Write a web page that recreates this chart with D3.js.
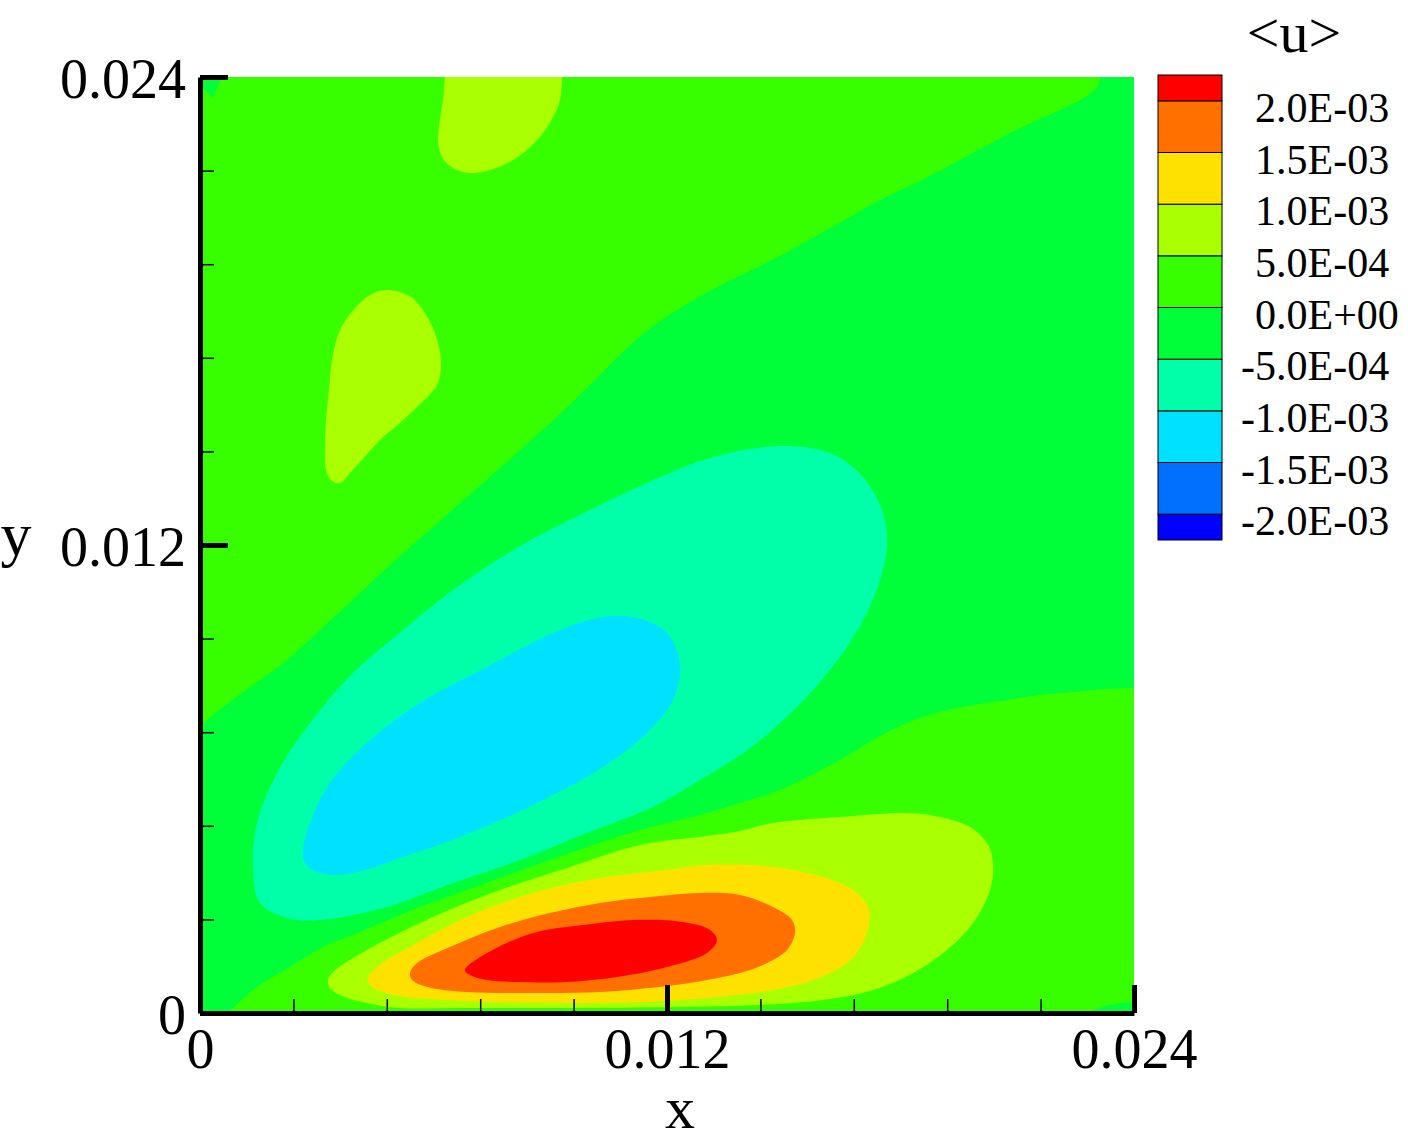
<!DOCTYPE html>
<html><head><meta charset="utf-8">
<script src="https://cdn.jsdelivr.net/npm/d3@7"></script>
<style>
body{margin:0;background:#fff}
svg{display:block}
text{font-family:"Liberation Serif","Times New Roman",serif;fill:#000}
</style>
</head><body>
<svg id="chart" width="1408" height="1142"></svg>
<script>
// ================= DATA =================
const contourLevels = [-0.002, -0.0015, -0.001, -0.0005, 0, 0.0005, 0.001, 0.0015, 0.002];
const levelLabels = ["-2.0E-03","-1.5E-03","-1.0E-03","-5.0E-04","0.0E+00","5.0E-04","1.0E-03","1.5E-03","2.0E-03"];
const xMajorTicks = [0, 0.012, 0.024];
const xMajorLabels = ["0", "0.012", "0.024"];
const yMajorTicks = [0, 0.012, 0.024];
const yMajorLabels = ["0", "0.012", "0.024"];
const minorTicks = [0.0024, 0.0048, 0.0072, 0.0096, 0.0144, 0.0168, 0.0192, 0.0216];
const legendTitle = "<u>";
const xTitle = "x", yTitle = "y";

// contour lines [x, y] (data units)
// u = 0, upper line (top edge -> left edge)
const zeroUpper = [[0.023126,0.024],[0.023049,0.023744],[0.022741,0.023487],[0.022253,0.023231],[0.021636,0.022949],[0.020865,0.02259],[0.020094,0.022179],[0.018552,0.021359],[0.017473,0.020846],[0.01624,0.020154],[0.014698,0.019308],[0.013285,0.018615],[0.011743,0.017692],[0.010870,0.016950],[0.010150,0.016230],[0.009276,0.015385],[0.007734,0.014],[0.006193,0.012641],[0.005139,0.011718],[0.004188,0.010846],[0.003084,0.009821],[0.002236,0.009051],[0.001465,0.008487],[0.000591,0.007846],[0,0.007359]];
// u = 0, lower line (bottom edge -> right edge)
const zeroLower = [[0.000719,0],[0.000848,0.000128],[0.001465,0.000667],[0.002313,0.001179],[0.003161,0.001692],[0.003931,0.002],[0.005139,0.002513],[0.006424,0.003],[0.007709,0.003462],[0.009508,0.004103],[0.011307,0.004692],[0.012848,0.005077],[0.013876,0.005385],[0.014904,0.005718],[0.016445,0.006487],[0.017293,0.007],[0.018167,0.007436],[0.019015,0.007718],[0.019863,0.007897],[0.020737,0.008026],[0.021585,0.008154],[0.022433,0.008231],[0.023306,0.008308],[0.024,0.008333]];
// u = -5E-4
const negHalf = [[0.014904,0.014538],[0.016189,0.014359],[0.017036,0.013744],[0.01755,0.012821],[0.017653,0.011949],[0.017473,0.011103],[0.017139,0.010256],[0.016625,0.009385],[0.015752,0.008282],[0.014904,0.007436],[0.014004,0.006692],[0.012848,0.005974],[0.011641,0.005282],[0.009944,0.004615],[0.008223,0.003923],[0.006501,0.003333],[0.004805,0.002718],[0.003084,0.002385],[0.002236,0.002436],[0.001542,0.002821],[0.001362,0.003744],[0.001465,0.004872],[0.001979,0.006154],[0.002827,0.007436],[0.003931,0.008718],[0.005216,0.009821],[0.006501,0.010846],[0.008223,0.011974],[0.009764,0.012769],[0.011486,0.01359],[0.013182,0.014256]];
// u = -1E-3
const negOne = [[0.010356,0.010154],[0.011229,0.010128],[0.012,0.009744],[0.012334,0.008872],[0.012154,0.008026],[0.011486,0.007179],[0.010356,0.006308],[0.00866,0.005385],[0.006938,0.004615],[0.005216,0.004],[0.003931,0.00359],[0.003084,0.00359],[0.002698,0.003846],[0.002647,0.004179],[0.002827,0.004872],[0.00334,0.005897],[0.004368,0.007],[0.005653,0.007949],[0.007375,0.008872],[0.009071,0.009744]];
// u = 5E-4 (wall lobe)
const posHalf = [[0.011307,0.004308],[0.013028,0.004538],[0.013876,0.004667],[0.014724,0.004872],[0.016445,0.005026],[0.018167,0.005128],[0.019015,0.005026],[0.019786,0.004769],[0.020223,0.004359],[0.020377,0.003846],[0.0203,0.003154],[0.019863,0.002308],[0.019195,0.001615],[0.018321,0.001026],[0.017293,0.00059],[0.016009,0.000333],[0.014313,0.000205],[0.012154,0.000154],[0.00943,0.000128],[0.006861,0.000128],[0.005139,0.000128],[0.004291,0.000256],[0.003598,0.000462],[0.00334,0.000641],[0.003289,0.000846],[0.003418,0.001051],[0.004291,0.001615],[0.005987,0.002462],[0.007709,0.003154],[0.00943,0.003718]];
// u = 1E-3
const posOne = [[0.004317,0.000897],[0.004548,0.001179],[0.005396,0.001692],[0.006861,0.002462],[0.008557,0.003077],[0.010278,0.003462],[0.012,0.003667],[0.013028,0.003795],[0.014724,0.003744],[0.016009,0.003487],[0.01678,0.003154],[0.017165,0.002718],[0.017191,0.002308],[0.017036,0.001795],[0.016625,0.001282],[0.015752,0.000846],[0.014724,0.00059],[0.013028,0.000385],[0.011307,0.000282],[0.00943,0.000256],[0.006861,0.000308],[0.005139,0.000436],[0.004625,0.000564],[0.004368,0.000718]];
// u = 1.5E-3
const posOneHalf = [[0.005396,0.001026],[0.005576,0.001282],[0.006424,0.001692],[0.007709,0.002205],[0.008994,0.002564],[0.010278,0.002821],[0.011563,0.002974],[0.012848,0.003077],[0.013876,0.003026],[0.014724,0.002718],[0.015212,0.002385],[0.015289,0.002051],[0.015084,0.001615],[0.01457,0.001282],[0.013876,0.001026],[0.013028,0.000846],[0.012,0.000692],[0.010278,0.000538],[0.008557,0.000513],[0.006861,0.000538],[0.005833,0.000667],[0.005448,0.000846]];
// u = 2E-3
const posTwo = [[0.006809,0.001103],[0.007375,0.001538],[0.008557,0.002051],[0.009842,0.002256],[0.011126,0.002385],[0.012411,0.002333],[0.013105,0.002128],[0.013285,0.001872],[0.013028,0.001538],[0.012,0.001179],[0.010715,0.000923],[0.00943,0.000795],[0.008146,0.000795],[0.007375,0.000846],[0.006938,0.000974]];
// u = 5E-4, blob touching the top edge
const topBlob = [[0.006296,0.024],[0.006244,0.02341],[0.006167,0.022897],[0.006116,0.022385],[0.006218,0.021949],[0.006501,0.021667],[0.006938,0.021538],[0.007452,0.021615],[0.008043,0.021872],[0.00848,0.022205],[0.008814,0.022564],[0.009071,0.022974],[0.009251,0.02341],[0.009302,0.024]];
// u = 5E-4, middle-left blob
const midBlob = [[0.004779,0.018538],[0.005422,0.018359],[0.005884,0.017769],[0.006116,0.017179],[0.006193,0.016615],[0.00609,0.016103],[0.005576,0.015538],[0.005139,0.015128],[0.004625,0.014692],[0.004163,0.014179],[0.003854,0.013846],[0.003598,0.01359],[0.003366,0.013667],[0.003238,0.013923],[0.003212,0.014513],[0.003238,0.015205],[0.003315,0.015974],[0.003392,0.016744],[0.003598,0.017513],[0.004009,0.018103],[0.004368,0.01841]];
// small negative patches in corners (u = 0)
const cornerTopLeft = [[0,0.024],[0.000565,0.024],[0.000334,0.023462],[0.000077,0.023718]];
const cornerBottomRight = [[0.022741,0],[0.023255,0.00018],[0.02364,0.000256],[0.024,0.000282],[0.024,0]];

// ================= STYLE / LAYOUT =================
const bandColors = ["#0000ff","#0070ff","#00e1ff","#00ffa8","#00ff38","#38ff00","#aaff00","#ffe100","#ff7000","#ff0000"];
const color = d3.scaleThreshold().domain(contourLevels).range(bandColors);
const plot = {left:200, right:1134, top:77, bottom:1013};
const svg = d3.select("#chart");
const x = d3.scaleLinear().domain([0, 0.024]).range([plot.left, plot.right]);
const y = d3.scaleLinear().domain([0, 0.024]).range([plot.bottom, plot.top]);

svg.append("defs").append("clipPath").attr("id","clip")
  .append("rect").attr("x",plot.left).attr("y",plot.top)
  .attr("width",plot.right-plot.left).attr("height",plot.bottom-plot.top);

const g = svg.append("g").attr("clip-path","url(#clip)");
const openLine = d3.line().x(d=>x(d[0])).y(d=>y(d[1])).curve(d3.curveCatmullRom.alpha(0.5));
const closedLine = d3.line().x(d=>x(d[0])).y(d=>y(d[1])).curve(d3.curveCatmullRomClosed.alpha(0.5));
const polyLine = d3.line().x(d=>x(d[0])).y(d=>y(d[1]));

// base band 0 .. 5E-4
g.append("rect").attr("x",plot.left).attr("y",plot.top)
  .attr("width",plot.right-plot.left).attr("height",plot.bottom-plot.top)
  .attr("fill",color(0.00025));

// band -5E-4 .. 0 : between the two zero lines
const bandPath = openLine(zeroUpper)
  + "L" + x(0) + "," + y(0)
  + openLine(zeroLower).replace(/^M/,"L")
  + "L" + x(0.024) + "," + y(0.024) + "Z";
g.append("path").attr("d", bandPath).attr("fill", color(-0.00025));
g.append("path").attr("d", polyLine(cornerTopLeft)+"Z").attr("fill", color(-0.00025));
g.append("path").attr("d", polyLine(cornerBottomRight)+"Z").attr("fill", color(-0.00025));

const closedRegions = [
  {pts: negHalf, v: -0.00075},
  {pts: negOne, v: -0.00125},
  {pts: posHalf, v: 0.00075},
  {pts: posOne, v: 0.00125},
  {pts: posOneHalf, v: 0.00175},
  {pts: posTwo, v: 0.00225},
  {pts: midBlob, v: 0.00075}
];
g.selectAll("path.region").data(closedRegions).enter().append("path")
  .attr("class","region")
  .attr("d", d => closedLine(d.pts))
  .attr("fill", d => color(d.v));
g.append("path").attr("d", openLine(topBlob)+"Z").attr("fill", color(0.00075));

// ================= AXES =================
const fs = 56;
// minor ticks
svg.append("g").attr("transform",`translate(0,${plot.bottom})`)
  .call(d3.axisBottom(x).tickValues(minorTicks).tickSizeInner(-14).tickSizeOuter(0).tickFormat(""))
  .call(a=>{a.select(".domain").remove(); a.selectAll(".tick line").attr("stroke","#000").attr("stroke-width",1.5);});
svg.append("g").attr("transform",`translate(${plot.left},0)`)
  .call(d3.axisLeft(y).tickValues(minorTicks).tickSizeInner(-14).tickSizeOuter(0).tickFormat(""))
  .call(a=>{a.select(".domain").remove(); a.selectAll(".tick line").attr("stroke","#000").attr("stroke-width",1.5);});

// major
const xAxis = svg.append("g").attr("transform",`translate(0,${plot.bottom})`)
  .call(d3.axisBottom(x).tickValues(xMajorTicks).tickSizeInner(-28).tickSizeOuter(0).tickPadding(15)
    .tickFormat((d,i)=>xMajorLabels[i]));
xAxis.select(".domain").attr("stroke","#000").attr("stroke-width",5);
xAxis.selectAll(".tick line").attr("stroke","#000").attr("stroke-width",5);
xAxis.selectAll(".tick text").attr("font-size",fs).attr("font-family","Liberation Serif").attr("fill","#000");

const yAxis = svg.append("g").attr("transform",`translate(${plot.left},0)`)
  .call(d3.axisLeft(y).tickValues(yMajorTicks).tickSizeInner(-28).tickSizeOuter(0).tickPadding(14)
    .tickFormat((d,i)=>yMajorLabels[i]));
yAxis.select(".domain").attr("stroke","#000").attr("stroke-width",5);
yAxis.selectAll(".tick line").attr("stroke","#000").attr("stroke-width",5);
yAxis.selectAll(".tick text").attr("font-size",fs).attr("font-family","Liberation Serif").attr("fill","#000").attr("dy","0.37em");

svg.append("text").attr("x",680).attr("y",1128).attr("text-anchor","middle").attr("font-size",60).text(xTitle);
svg.append("text").attr("x",16).attr("y",555).attr("text-anchor","middle").attr("font-size",62).text(yTitle);

// ================= COLOR BAR =================
const step = contourLevels[1]-contourLevels[0];
const lo = contourLevels[0]-step/2, hi = contourLevels[contourLevels.length-1]+step/2;
const cy = d3.scaleLinear().domain([lo, hi]).range([540, 75]);
const edges = [lo, ...contourLevels, hi];
const cb = svg.append("g");
cb.selectAll("rect").data(d3.range(edges.length-1)).enter().append("rect")
  .attr("x",1158).attr("width",64)
  .attr("y", i => cy(edges[i+1]))
  .attr("height", i => cy(edges[i]) - cy(edges[i+1]))
  .attr("fill", i => bandColors[i])
  .attr("stroke","#000").attr("stroke-width",1);

const lfs = 42;
const tmp = svg.append("text").attr("font-size",lfs).text("-");
const minusW = tmp.node().getComputedTextLength();
tmp.remove();
cb.selectAll("text").data(contourLevels).enter().append("text")
  .attr("font-size",lfs)
  .attr("x",(d,i)=> 1255 - (levelLabels[i].startsWith("-") ? minusW : 0))
  .attr("y", d => cy(d) + 21)
  .text((d,i)=>levelLabels[i]);

svg.append("text").attr("x",1294).attr("y",52).attr("text-anchor","middle").attr("font-size",58).text(legendTitle);
</script>
</body></html>
